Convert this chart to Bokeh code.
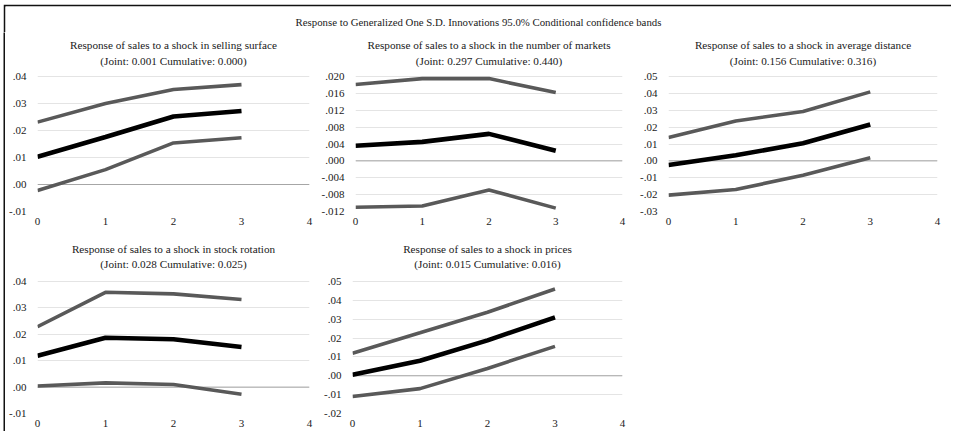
from bokeh.plotting import figure
from bokeh.layouts import column, row
from bokeh.models import Range1d, FixedTicker, Span, Spacer
from bokeh.core.properties import value
from bokeh.embed import file_html
from bokeh.resources import INLINE

MAIN_TITLE = "Response to Generalized One S.D. Innovations 95.0% Conditional confidence bands"
horizons = [0, 1, 2, 3]
x_ticks = [0, 1, 2, 3, 4]

# --- panel 1: selling surface
surface_title = "Response of sales to a shock in selling surface"
surface_sub = "(Joint: 0.001 Cumulative: 0.000)"
surface_resp = [0.0103, 0.0176, 0.0252, 0.0272]
surface_upper = [0.0231, 0.0300, 0.0352, 0.0370]
surface_lower = [-0.0022, 0.0055, 0.0154, 0.0173]
surface_ticks = [-0.01, 0.0, 0.01, 0.02, 0.03, 0.04]
surface_labels = ["-.01", ".00", ".01", ".02", ".03", ".04"]

# --- panel 2: number of markets
markets_title = "Response of sales to a shock in the number of markets"
markets_sub = "(Joint: 0.297 Cumulative: 0.440)"
markets_resp = [0.0036, 0.0045, 0.0064, 0.0024]
markets_upper = [0.0181, 0.0195, 0.0195, 0.0162]
markets_lower = [-0.0110, -0.0107, -0.0069, -0.0112]
markets_ticks = [-0.012, -0.008, -0.004, 0.0, 0.004, 0.008, 0.012, 0.016, 0.020]
markets_labels = ["-.012", "-.008", "-.004", ".000", ".004", ".008", ".012", ".016", ".020"]

# --- panel 3: average distance
distance_title = "Response of sales to a shock in average distance"
distance_sub = "(Joint: 0.156 Cumulative: 0.316)"
distance_resp = [-0.0025, 0.0033, 0.0104, 0.0216]
distance_upper = [0.0139, 0.0236, 0.0293, 0.0409]
distance_lower = [-0.0203, -0.0170, -0.0085, 0.0019]
distance_ticks = [-0.03, -0.02, -0.01, 0.0, 0.01, 0.02, 0.03, 0.04, 0.05]
distance_labels = ["-.03", "-.02", "-.01", ".00", ".01", ".02", ".03", ".04", ".05"]

# --- panel 4: stock rotation
rotation_title = "Response of sales to a shock in stock rotation"
rotation_sub = "(Joint: 0.028 Cumulative: 0.025)"
rotation_resp = [0.0119, 0.0187, 0.0181, 0.0152]
rotation_upper = [0.0229, 0.0359, 0.0353, 0.0332]
rotation_lower = [0.0004, 0.0016, 0.0010, -0.0027]
rotation_ticks = [-0.01, 0.0, 0.01, 0.02, 0.03, 0.04]
rotation_labels = ["-.01", ".00", ".01", ".02", ".03", ".04"]

# --- panel 5: prices
prices_title = "Response of sales to a shock in prices"
prices_sub = "(Joint: 0.015 Cumulative: 0.016)"
prices_resp = [0.0005, 0.0080, 0.0188, 0.0310]
prices_upper = [0.0120, 0.0228, 0.0337, 0.0460]
prices_lower = [-0.0110, -0.0068, 0.0039, 0.0156]
prices_ticks = [-0.02, -0.01, 0.0, 0.01, 0.02, 0.03, 0.04, 0.05]
prices_labels = ["-.02", "-.01", ".00", ".01", ".02", ".03", ".04", ".05"]

FONT = "Liberation Serif"
BAND = "#595959"
TXT = "#1a1a1a"


def panel(title, sub, ticks, labels, resp, upper, lower, width, height,
          left, right, bottom, extra_px, inner_off, outer_off):
    lo, hi = ticks[0], ticks[-1]
    data_px = height - bottom - extra_px
    per_px = (hi - lo) / data_px
    p = figure(width=width, height=height, title=None,
               x_range=Range1d(0, 4), y_range=Range1d(lo, hi + extra_px * per_px),
               output_backend="svg", toolbar_location=None,
               min_border_left=left, min_border_right=right,
               min_border_top=0, min_border_bottom=bottom)
    p.outline_line_color = None
    p.background_fill_color = "white"
    p.border_fill_color = "white"

    # panel titles (two lines) placed above the data area
    p.text(x=[2, 2], y=[hi + inner_off * per_px, hi + outer_off * per_px],
           text=[sub, title], text_align="center", text_baseline="middle",
           text_font=value(FONT), text_font_size="11.2px", text_color=TXT)

    p.yaxis.ticker = FixedTicker(ticks=ticks)
    p.yaxis.major_label_overrides = dict(zip(ticks, labels))
    p.xaxis.ticker = FixedTicker(ticks=x_ticks)
    for ax in (p.xaxis, p.yaxis):
        ax.axis_line_color = None
        ax.major_tick_line_color = None
        ax.minor_tick_line_color = None
        ax.major_label_text_font = FONT
        ax.major_label_text_font_size = "11px"
        ax.major_label_text_color = TXT
    p.xaxis.major_label_standoff = 0
    p.yaxis.major_label_standoff = 5
    p.xgrid.visible = False
    p.ygrid.grid_line_color = "#e4e4e4"

    p.add_layout(Span(location=0, dimension="width", line_color="#a6a6a6",
                      line_width=1, level="underlay"))

    p.line(horizons, upper, line_color=BAND, line_width=3.6)
    p.line(horizons, lower, line_color=BAND, line_width=3.6)
    p.line(horizons, resp, line_color="black", line_width=4.6)
    return p


TOP_H, BOT_H = 198, 201
p1 = panel(surface_title, surface_sub, surface_ticks, surface_labels,
           surface_resp, surface_upper, surface_lower,
           313, TOP_H, 32, 9, 19, 44, 16, 32)
p2 = panel(markets_title, markets_sub, markets_ticks, markets_labels,
           markets_resp, markets_upper, markets_lower,
           315, TOP_H, 34, 11, 19, 44, 16, 32)
p3 = panel(distance_title, distance_sub, distance_ticks, distance_labels,
           distance_resp, distance_upper, distance_lower,
           313, TOP_H, 35, 9, 19, 44, 16, 32)
p4 = panel(rotation_title, rotation_sub, rotation_ticks, rotation_labels,
           rotation_resp, rotation_upper, rotation_lower,
           313, BOT_H, 32, 9, 18, 51, 18, 33)
p5 = panel(prices_title, prices_sub, prices_ticks, prices_labels,
           prices_resp, prices_upper, prices_lower,
           315, BOT_H, 34, 11, 18, 51, 18, 33)

# header: its 2px top and left borders form the corner of the frame
HEAD_H = 28
header = figure(width=948, height=HEAD_H, title=None,
                x_range=Range1d(0, 1), y_range=Range1d(0, 1),
                x_axis_location=None, y_axis_location=None,
                output_backend="svg", toolbar_location=None,
                min_border_top=2, min_border_left=2, min_border_right=0, min_border_bottom=0)
header.grid.visible = False
header.outline_line_color = None
header.border_fill_color = "#111111"
header.background_fill_color = "white"
header.text(x=[0.5], y=[1 - 15 / (HEAD_H - 2)], text=[MAIN_TITLE],
            text_align="center", text_baseline="middle", text_font=value(FONT),
            text_font_size="10.8px", text_color=TXT)

# left rule of the frame, below the header
left_rule = figure(width=2, height=TOP_H + BOT_H, title=None,
                   x_axis_location=None, y_axis_location=None,
                   output_backend="svg", toolbar_location=None, min_border=0)
left_rule.grid.visible = False
left_rule.outline_line_color = None
left_rule.background_fill_color = "#111111"
left_rule.border_fill_color = "#111111"

panels = column(row(p1, p2, p3), row(p4, p5, Spacer(width=313, height=BOT_H)))
framed = column(header, row(left_rule, panels))
layout = column(Spacer(width=10, height=4), row(Spacer(width=3, height=10), framed))

open("out.html", "w").write(file_html(layout, INLINE))
